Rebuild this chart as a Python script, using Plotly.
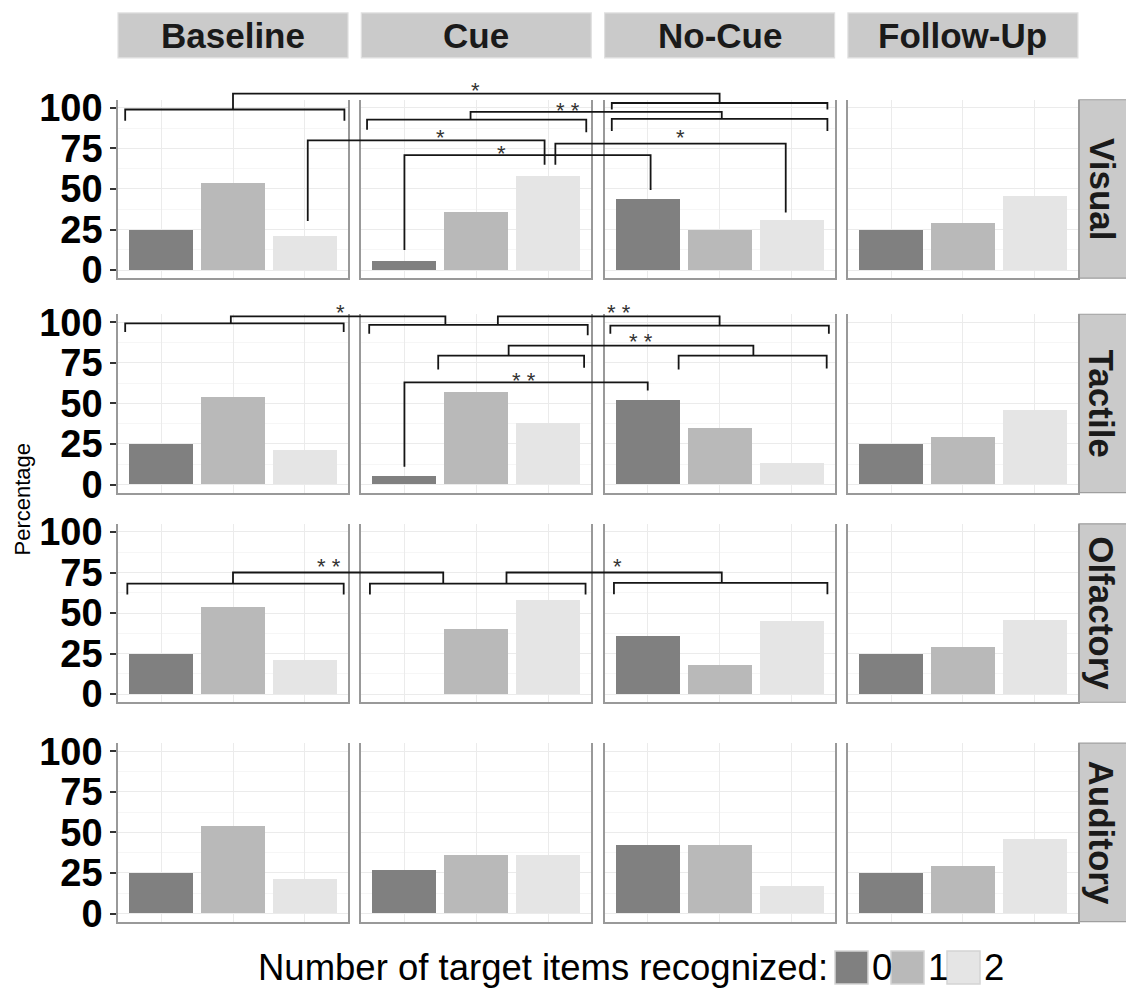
import plotly.graph_objects as go

# ---------------- data ----------------
PHASES = ["Baseline", "Cue", "No-Cue", "Follow-Up"]
MODALITIES = ["Visual", "Tactile", "Olfactory", "Auditory"]
LEVELS = ["0", "1", "2"]
LEVEL_COLORS = ["#808080", "#b9b9b9", "#e5e5e5"]
Y_TICKS = [0, 25, 50, 75, 100]
LEGEND_TITLE = "Number of target items recognized:"
Y_TITLE = "Percentage"

# percentages per phase (Baseline, Cue, No-Cue, Follow-Up) for levels 0,1,2
VISUAL = [[25, 54, 21], [6, 36, 58], [44, 25, 31], [25, 29, 46]]
TACTILE = [[25, 54, 21], [5, 57, 38], [52, 35, 13], [25, 29, 46]]
OLFACTORY = [[25, 54, 21], [0, 40, 58], [36, 18, 45], [25, 29, 46]]
AUDITORY = [[25, 54, 21], [27, 36, 36], [42, 42, 17], [25, 29, 46]]
VALUES = [VISUAL, TACTILE, OLFACTORY, AUDITORY]

# significance brackets, in (phase index, category position, percentage)
# group brackets: (phase, from_cat, to_cat, height, leg_left_end, leg_right_end)
VISUAL_GROUPS = [(0, -0.5, 2.55, 99, 92, 92), (2, -0.5, 2.5, 103, 99, 99),
                 (1, -0.52, 2.53, 92.8, 86.5, 85), (2, -0.5, 2.5, 93.2, 85.7, 85.7)]
# links: (phase1, cat1, start1, phase2, cat2, end2, top)
VISUAL_LINKS = [(0, 1.0, 99, 2, 1.0, 103, 108.8), (1, 0.92, 92.8, 2, 1.03, 93.2, 97.5),
                (0, 2.04, 30.3, 1, 1.95, 65, 80), (1, 0.0, 12.3, 2, 0.04, 49.4, 70.9),
                (1, 2.1, 65, 2, 1.92, 35.5, 78)]
VISUAL_STARS = [(1, 0.99, 114, "*"), (1, 2.27, 101.5, "* *"), (1, 0.5, 85, "*"),
                (1, 1.35, 75, "*"), (2, 0.45, 85, "*")]

TACTILE_GROUPS = [(0, -0.5, 2.54, 99.4, 94, 94), (1, -0.49, 2.55, 98.4, 93, 92),
                  (2, -0.52, 2.52, 98, 93, 93), (1, 0.47, 2.5, 79.5, 71, 72),
                  (2, 0.43, 2.49, 79.5, 71, 71.5)]
TACTILE_LINKS = [(0, 0.97, 99.4, 1, 0.57, 98.4, 103.7), (1, 1.3, 98.4, 2, 1.0, 98, 103.7),
                 (1, 1.45, 79.5, 2, 1.47, 79.5, 85.7), (1, 0.0, 11, 2, 0.0, 58, 63)]
TACTILE_STARS = [(0, 2.49, 109, "*"), (2, -0.4, 109, "* *"), (2, -0.1, 91, "* *"),
                 (1, 1.67, 67.5, "* *")]

OLFACTORY_GROUPS = [(0, -0.47, 2.54, 68.2, 61.4, 61.4), (1, -0.48, 2.52, 68.2, 61.4, 61.4),
                    (2, -0.47, 2.5, 68.6, 61.6, 61.6)]
OLFACTORY_LINKS = [(0, 1.0, 68.2, 1, 0.54, 68.2, 75), (1, 1.42, 68.2, 2, 1.03, 68.6, 75)]
OLFACTORY_STARS = [(0, 2.33, 81.5, "* *"), (2, -0.42, 82, "*")]

AUDITORY_GROUPS = []
AUDITORY_LINKS = []
AUDITORY_STARS = []

GROUPS = [VISUAL_GROUPS, TACTILE_GROUPS, OLFACTORY_GROUPS, AUDITORY_GROUPS]
LINKS = [VISUAL_LINKS, TACTILE_LINKS, OLFACTORY_LINKS, AUDITORY_LINKS]
STARS = [VISUAL_STARS, TACTILE_STARS, OLFACTORY_STARS, AUDITORY_STARS]

# ---------------- geometry (pixels) ----------------
FIG_W, FIG_H = 1126, 998
PANEL_LEFT = 118
PANEL_W = 230
PANEL_STEP = 243.3
ROW_TOP = [90, 310, 525, 750]
ROW_H = 183
STRIP_TOP, STRIP_BOTTOM = 1, 47
Y_RANGE = [-5, 105]
X_RANGE = [-0.6, 2.6]
EXT = 48  # extra pixels above each row for brackets
FONT = "Liberation Sans, Arial, sans-serif"


def px(x):
    return x / FIG_W


def py(y):
    return 1 - y / FIG_H


def ax_name(k):
    return "" if k == 1 else str(k)


fig = go.Figure()
layout = {}

for r, mod in enumerate(MODALITIES):
    for c, ph in enumerate(PHASES):
        k = r * 4 + c + 1
        n = ax_name(k)
        fig.add_trace(go.Bar(
            x=[0, 1, 2], y=VALUES[r][c], width=0.9,
            marker=dict(color=LEVEL_COLORS, line=dict(width=0)),
            xaxis="x" + n, yaxis="y" + n, showlegend=False, hoverinfo="skip"))
        x0 = PANEL_LEFT + c * PANEL_STEP
        layout["xaxis" + n] = dict(
            domain=[px(x0), px(x0 + PANEL_W)], range=X_RANGE, anchor="y" + n,
            tickvals=[0, 1, 2], showticklabels=False, ticks="",
            showgrid=True, gridcolor="#ebebeb", gridwidth=1, zeroline=False,
            showline=True, linecolor="#999999", linewidth=1.6, mirror=False)
        first = (c == 0)
        layout["yaxis" + n] = dict(
            domain=[py(ROW_TOP[r] + ROW_H), py(ROW_TOP[r])], range=Y_RANGE, anchor="x" + n,
            tickvals=Y_TICKS, ticktext=[str(v) for v in Y_TICKS],
            showticklabels=first, ticks="outside" if first else "", ticklen=6,
            tickwidth=1.5, tickcolor="#333333",
            tickfont=dict(family=FONT, size=38, color="#000000", weight="bold"),
            showgrid=True, gridcolor="#ebebeb", gridwidth=1, zeroline=False,
            minor=dict(tickvals=[12.5, 37.5, 62.5, 87.5], showgrid=True,
                       gridcolor="#f6f6f6", ticks=""),
            showline=True, linecolor="#999999", linewidth=1.6, mirror=True)

# overlay axes for significance brackets, one per row
S = (X_RANGE[1] - X_RANGE[0]) * PANEL_STEP / PANEL_W
ppu = ROW_H / (Y_RANGE[1] - Y_RANGE[0])
annotations = []
for r in range(4):
    k = 17 + r
    n = str(k)
    xs, ys = [], []
    for (p, a, b, h, l1, l2) in GROUPS[r]:
        xs += [p * S + a, p * S + a, p * S + b, p * S + b, None]
        ys += [l1, h, h, l2, None]
    for (p1, c1, s1, p2, c2, e2, top) in LINKS[r]:
        xs += [p1 * S + c1, p1 * S + c1, p2 * S + c2, p2 * S + c2, None]
        ys += [s1, top, top, e2, None]
    fig.add_trace(go.Scatter(
        x=xs, y=ys, mode="lines", line=dict(color="#151515", width=1.8),
        xaxis="x" + n, yaxis="y" + n, showlegend=False, hoverinfo="skip"))
    layout["xaxis" + n] = dict(
        domain=[px(PANEL_LEFT), px(PANEL_LEFT + 3 * PANEL_STEP + PANEL_W)],
        range=[X_RANGE[0], 3 * S + X_RANGE[1]], anchor="y" + n, visible=False)
    layout["yaxis" + n] = dict(
        domain=[py(ROW_TOP[r] + ROW_H), py(ROW_TOP[r] - EXT)],
        range=[Y_RANGE[0], Y_RANGE[1] + EXT / ppu], anchor="x" + n, visible=False)
    for (p, cpos, v, txt) in STARS[r]:
        annotations.append(dict(
            x=p * S + cpos, y=v, xref="x" + n, yref="y" + n, text=txt,
            showarrow=False, yshift=-5, xanchor="center", yanchor="middle",
            font=dict(family=FONT, size=22, color="#333333")))

shapes = []
# top strips
for c, ph in enumerate(PHASES):
    x0 = PANEL_LEFT + c * PANEL_STEP
    shapes.append(dict(type="rect", xref="paper", yref="paper",
                       x0=px(x0), x1=px(x0 + PANEL_W), y0=py(STRIP_BOTTOM), y1=py(STRIP_TOP),
                       fillcolor="#cacaca", line=dict(color="#e0e0e0", width=1.2),
                       layer="below"))
    annotations.append(dict(x=px(x0 + PANEL_W / 2), y=py((STRIP_TOP + STRIP_BOTTOM) / 2),
                            xref="paper", yref="paper",
                            text="<b>%s</b>" % ph, showarrow=False,
                            xanchor="center", yanchor="middle",
                            font=dict(family=FONT, size=35, color="#1a1a1a")))
# right strips
STRIP_X0 = PANEL_LEFT + 3 * PANEL_STEP + PANEL_W + 1
for r, mod in enumerate(MODALITIES):
    shapes.append(dict(type="rect", xref="paper", yref="paper",
                       x0=px(STRIP_X0), x1=px(STRIP_X0 + 60), y0=py(ROW_TOP[r] + ROW_H),
                       y1=py(ROW_TOP[r]), fillcolor="#cacaca",
                       line=dict(color="#9f9f9f", width=1.2), layer="below"))
    annotations.append(dict(x=px(STRIP_X0 + 23), y=py(ROW_TOP[r] + ROW_H / 2),
                            xref="paper", yref="paper", text="<b>%s</b>" % mod,
                            textangle=90, showarrow=False,
                            xanchor="center", yanchor="middle",
                            font=dict(family=FONT, size=35, color="#1a1a1a")))

# y title
annotations.append(dict(x=px(22), y=py(500), xref="paper", yref="paper", text=Y_TITLE,
                        textangle=-90, showarrow=False, xanchor="center", yanchor="middle",
                        font=dict(family=FONT, size=22, color="#000000")))

# legend (manual, large swatches)
LEG_Y = 980
annotations.append(dict(x=px(830), y=py(LEG_Y), xref="paper", yref="paper",
                        text=LEGEND_TITLE, showarrow=False, xanchor="right",
                        yanchor="middle",
                        font=dict(family=FONT, size=36.5, color="#000000")))
box_x = 835
for i, lv in enumerate(LEVELS):
    shapes.append(dict(type="rect", xref="paper", yref="paper",
                       x0=px(box_x), x1=px(box_x + 33), y0=py(LEG_Y + 17), y1=py(LEG_Y - 17),
                       fillcolor=LEVEL_COLORS[i], line=dict(color="#d4d4d4", width=1.5)))
    annotations.append(dict(x=px(box_x + 35), y=py(LEG_Y), xref="paper", yref="paper",
                            text=lv, showarrow=False, xanchor="left", yanchor="middle",
                            font=dict(family=FONT, size=36.5, color="#000000")))
    box_x += 56

fig.update_layout(
    width=FIG_W, height=FIG_H, margin=dict(l=0, r=0, t=0, b=0),
    paper_bgcolor="white", plot_bgcolor="rgba(0,0,0,0)", showlegend=False,
    bargap=0, shapes=shapes, annotations=annotations, **layout)

fig.write_html("out.html", config={"displayModeBar": False},
               post_script="document.body.style.margin='0px';")
